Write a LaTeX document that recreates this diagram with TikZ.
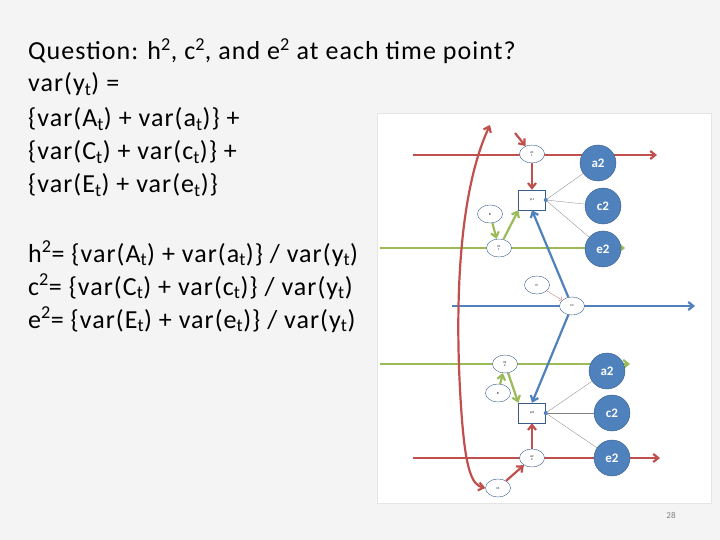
\documentclass[tikz,border=0pt]{standalone}
\usepackage{fontspec}
\setmainfont{Carlito}
\newfontfamily\wide[LetterSpace=4]{Carlito}
\usetikzlibrary{arrows.meta,shapes.geometric}
\definecolor{rd}{RGB}{192,80,77}
\definecolor{gr}{RGB}{155,187,89}
\definecolor{bl}{RGB}{79,129,189}
\definecolor{bd}{RGB}{56,93,138}
\definecolor{bg}{RGB}{244,244,244}
\begin{document}
\begin{tikzpicture}[x=1pt,y=-1pt,
 txt/.style={anchor=base west,font=\wide\fontsize{26}{28}\selectfont,inner sep=0},
 ov/.style={ellipse,draw=bd,fill=white,minimum width=25,minimum height=18,inner sep=0,font=\fontsize{3}{3.5}\selectfont,align=center},
 bx/.style={draw=bd,fill=white,minimum width=27,minimum height=20,inner sep=0,font=\fontsize{3}{3.5}\selectfont},
 big/.style={circle,fill=bl,draw=bd,minimum size=36,inner sep=0,text=white,font=\bfseries\fontsize{13}{14}\selectfont},
 ra/.style={rd,line width=2.2,-{Straight Barb[length=5,width=8]}},
 ga/.style={gr,line width=2.2,-{Straight Barb[length=5,width=8]}},
 ba/.style={bl,line width=2.2,-{Straight Barb[length=5,width=8]}},
 th/.style={gray,line width=0.3}]
\useasboundingbox (0,0) rectangle (720,540);
\fill[bg] (0,0) rectangle (720,540);
\draw[gray!20,fill=white] (377,113) rectangle (711,503);
\node[txt] (t1) at (28,60) {Question: h\textsuperscript{2}, c\textsuperscript{2}, and e\textsuperscript{2} at each time point?};
\node[txt] (t2) at (28,92) {var(y\textsubscript{t}) =};
\node[txt] (t3) at (28,127) {\{var(A\textsubscript{t}) + var(a\textsubscript{t})\} +};
\node[txt] (t4) at (28,160) {\{var(C\textsubscript{t}) + var(c\textsubscript{t})\} +};
\node[txt] (t5) at (28,193) {\{var(E\textsubscript{t}) + var(e\textsubscript{t})\}};
\node[txt] (t6) at (28,262) {h\textsuperscript{2}= \{var(A\textsubscript{t}) + var(a\textsubscript{t})\} / var(y\textsubscript{t})};
\node[txt] (t7) at (28,295) {c\textsuperscript{2}= \{var(C\textsubscript{t}) + var(c\textsubscript{t})\} / var(y\textsubscript{t})};
\node[txt] (t8) at (28,328) {e\textsuperscript{2}= \{var(E\textsubscript{t}) + var(e\textsubscript{t})\} / var(y\textsubscript{t})};
\node[font=\fontsize{9}{10}\selectfont,text=gray] (pg) at (671,515) {28};
% coordinates
\coordinate (r1s) at (413,155); \coordinate (r1e) at (657,155);
\coordinate (g1s) at (380,248); \coordinate (g1e) at (625,248);
\coordinate (b1s) at (452,306); \coordinate (b1e) at (695,306);
\coordinate (g2s) at (380,364); \coordinate (g2e) at (630,364);
\coordinate (r2s) at (413,458); \coordinate (r2e) at (660,458);
\coordinate (rin) at (515,133);
\coordinate (rtop) at (490,125);
% lines
\draw[ra] (r1s) -- (r1e);
\draw[ga] (g1s) -- (g1e);
\draw[ba] (b1s) -- (b1e);
\draw[ga] (g2s) -- (g2e);
\draw[ra] (r2s) -- (r2e);
% big circles
\node[big] (a1) at (598,163) {a2};
\node[big] (c1) at (603,206) {c2};
\node[big] (e1) at (603,249) {e2};
\node[big] (a2) at (607,371) {a2};
\node[big] (c2) at (612,413) {c2};
\node[big] (e2) at (612,458) {e2};
% small nodes
\node[ov] (A1) at (532,154) {A1\\1};
\node[bx] (y1) at (532,200) {y11};
\node[ov] (f1) at (490,214) {fE};
\node[ov] (E1) at (499,248) {E1\\1};
\node[ov] (fc) at (537,285) {fC};
\node[ov] (C) at (572,306) {C2};
\node[ov] (E2) at (505,364) {E2\\2};
\node[ov] (f2) at (498,393) {fE};
\node[bx] (y2) at (532,413) {y22};
\node[ov] (A2) at (532,458) {A2\\2};
\node[ov] (fA) at (498,488) {fA};
% thin lines
\foreach \b/\c in {y1/a1,y1/c1,y1/e1,y2/a2,y2/c2,y2/e2} \draw[th] (\b.east) -- (\c);
\fill[bl] (y1.east) circle (2); \fill[bl] (y2.east) circle (2);
% arrows
\draw[ra] (rin) -- (A1);
\draw[ra] (A1) -- (y1);
\draw[ga] (f1) -- (E1);
\draw[ga] (E1) -- (y1.south west);
\draw[ba] (C) -- (y1.south);
\draw[rd!60,line width=0.5,->] (fc) -- (C);
\draw[ba] (C) -- (y2.north);
\draw[ga] (E2) -- (y2.north west);
\draw[ga] (f2) -- (E2);
\draw[ra] (A2) -- (y2);
\draw[ra] (fA) -- (A2);
% red curve
\draw[rd,line width=2.2,{Straight Barb[length=5,width=8]}-{Straight Barb[length=5,width=8]}] (rtop) .. controls (455,200) and (455,330) .. (462,420) .. controls (466,470) and (472,485) .. (fA.west);
\end{tikzpicture}
\end{document}
